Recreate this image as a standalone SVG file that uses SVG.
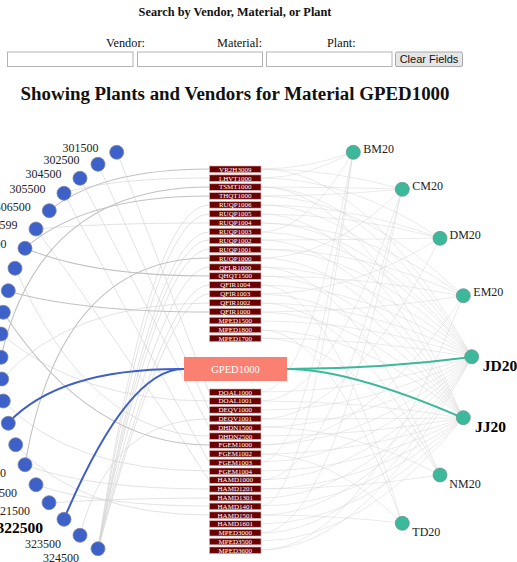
<svg xmlns="http://www.w3.org/2000/svg" width="517" height="562" viewBox="0 0 517 562">
<style>
.fl{fill:none;stroke:#d2d2d2;stroke-width:1;stroke-opacity:.45}
.vf{fill:none;stroke:#d4d4d4;stroke-width:1;stroke-opacity:.65}
.vl{fill:none;stroke:#c2c2c2;stroke-width:1.1}
.hv{fill:none;stroke:#3e5fc7;stroke-width:2}
.hp{fill:none;stroke:#3cb89b;stroke-width:2}
.vn circle{fill:#3d60c9;stroke:#7d88a6;stroke-width:.8}
.pn circle{fill:#3cb89b;stroke:#6b9a8e;stroke-width:.8}
.lbl{font-family:"Liberation Serif",serif;font-size:12px;fill:#222}
.vn .lbl{text-anchor:end}
.big{font-size:15.5px;font-weight:bold;fill:#000}
.mat rect{fill:#6b0202;stroke:#e2b0b0;stroke-width:.6}
.mat text{font-family:"Liberation Serif",serif;font-size:7px;fill:#fff;text-anchor:middle}
.hdr{font-family:"Liberation Serif",serif;fill:#111}
.inp{fill:#fff;stroke:#b4b4b4;stroke-width:1}
</style>

<g id="header">
<text class="hdr" x="235" y="16" font-size="12.3" font-weight="bold" text-anchor="middle">Search by Vendor, Material, or Plant</text>
<text class="hdr" x="106" y="47" font-size="12.3">Vendor:</text>
<text class="hdr" x="217" y="47" font-size="12.3">Material:</text>
<text class="hdr" x="327" y="47" font-size="12.3">Plant:</text>
<rect class="inp" x="7.5" y="52" width="125.5" height="14.5"/>
<rect class="inp" x="137.5" y="52" width="125" height="14.5"/>
<rect class="inp" x="266.5" y="52" width="125.5" height="14.5"/>
<rect x="395.5" y="52" width="67" height="14.5" rx="1.5" fill="#e6e6e6" stroke="#aaaaaa"/>
<text x="429" y="63" font-family="'Liberation Sans',sans-serif" font-size="11" text-anchor="middle" fill="#111">Clear Fields</text>
<text class="hdr" x="235" y="100" font-size="18.9" font-weight="bold" text-anchor="middle" fill="#000">Showing Plants and Vendors for Material GPED1000</text>
</g>

<g id="connectors">
<g id="material-plant-links">
<path class="fl" d="M261 169Q307 169 353 152"/><path class="fl" d="M261 169Q332 169 402 189"/><path class="fl" d="M261 169Q366 169 472 357"/>
<path class="fl" d="M261 178Q307 178 353 152"/><path class="fl" d="M261 178Q350 178 440 238"/>
<path class="fl" d="M261 187Q332 187 402 189"/><path class="fl" d="M261 187Q366 187 472 357"/><path class="fl" d="M261 187Q362 187 463 418"/>
<path class="fl" d="M261 196Q332 196 402 189"/><path class="fl" d="M261 196Q362 196 463 296"/>
<path class="fl" d="M261 205Q350 205 440 238"/><path class="fl" d="M261 205Q366 205 472 357"/>
<path class="fl" d="M261 214Q350 214 440 238"/><path class="fl" d="M261 214Q362 214 463 418"/>
<path class="fl" d="M261 223Q362 223 463 296"/><path class="fl" d="M261 223Q366 223 472 357"/>
<path class="fl" d="M261 232Q307 232 353 152"/><path class="fl" d="M261 232Q366 232 472 357"/>
<path class="fl" d="M261 240Q350 240 440 238"/><path class="fl" d="M261 240Q362 240 463 418"/>
<path class="fl" d="M261 249Q362 249 463 296"/><path class="fl" d="M261 249Q366 249 472 357"/>
<path class="fl" d="M261 258Q332 258 402 189"/><path class="fl" d="M261 258Q362 258 463 418"/>
<path class="fl" d="M261 267Q366 267 472 357"/><path class="fl" d="M261 267Q350 267 440 475"/>
<path class="fl" d="M261 276Q362 276 463 296"/><path class="fl" d="M261 276Q362 276 463 418"/>
<path class="fl" d="M261 285Q366 285 472 357"/><path class="fl" d="M261 285Q332 285 402 523"/>
<path class="fl" d="M261 294Q350 294 440 238"/><path class="fl" d="M261 294Q362 294 463 418"/>
<path class="fl" d="M261 303Q366 303 472 357"/><path class="fl" d="M261 303Q350 303 440 475"/>
<path class="fl" d="M261 312Q362 312 463 296"/><path class="fl" d="M261 312Q362 312 463 418"/>
<path class="fl" d="M261 321Q366 321 472 357"/>
<path class="fl" d="M261 330Q362 330 463 418"/><path class="fl" d="M261 330Q332 330 402 523"/>
<path class="fl" d="M261 338Q366 338 472 357"/><path class="fl" d="M261 338Q350 338 440 475"/>
<path class="fl" d="M261 392Q366 392 472 357"/><path class="fl" d="M261 392Q307 392 353 152"/>
<path class="fl" d="M261 401Q362 401 463 418"/><path class="fl" d="M261 401Q332 401 402 189"/>
<path class="fl" d="M261 410Q366 410 472 357"/>
<path class="fl" d="M261 419Q362 419 463 418"/><path class="fl" d="M261 419Q350 419 440 238"/>
<path class="fl" d="M261 427Q366 427 472 357"/><path class="fl" d="M261 427Q350 427 440 475"/>
<path class="fl" d="M261 436Q362 436 463 418"/>
<path class="fl" d="M261 445Q366 445 472 357"/><path class="fl" d="M261 445Q362 445 463 296"/>
<path class="fl" d="M261 454Q362 454 463 418"/><path class="fl" d="M261 454Q332 454 402 523"/>
<path class="fl" d="M261 462Q366 462 472 357"/><path class="fl" d="M261 462Q307 462 353 152"/>
<path class="fl" d="M261 471Q362 471 463 418"/>
<path class="fl" d="M261 480Q366 480 472 357"/><path class="fl" d="M261 480Q332 480 402 189"/>
<path class="fl" d="M261 489Q362 489 463 418"/><path class="fl" d="M261 489Q350 489 440 475"/>
<path class="fl" d="M261 498Q366 498 472 357"/>
<path class="fl" d="M261 506Q362 506 463 418"/><path class="fl" d="M261 506Q307 506 353 152"/>
<path class="fl" d="M261 515Q366 515 472 357"/><path class="fl" d="M261 515Q332 515 402 523"/>
<path class="fl" d="M261 524Q362 524 463 418"/>
<path class="fl" d="M261 533Q366 533 472 357"/><path class="fl" d="M261 533Q332 533 402 189"/>
<path class="fl" d="M261 541Q362 541 463 418"/>
<path class="fl" d="M261 550Q366 550 472 357"/><path class="fl" d="M261 550Q362 550 463 296"/>
</g>
<g id="vendor-material-links">
<path class="vf" d="M117 152L209 392"/>
<path class="vf" d="M98 164L209 410"/>
<path class="vf" d="M80 178L209 427"/>
<path class="vf" d="M64 193Q120 300 209 462"/>
<path class="vf" d="M36 229Q110 330 209 480"/>
<path class="vf" d="M64 193Q110 178 209 178"/>
<path class="vf" d="M36 229Q100 223 209 223"/>
<path class="vf" d="M98 549Q150 205 209 205"/>
<path class="vf" d="M98 549Q153 214 209 214"/>
<path class="vf" d="M98 549Q156 232 209 232"/>
<path class="vf" d="M98 549Q158 240 209 240"/>
<path class="vf" d="M98 549Q160 249 209 249"/>
<path class="vf" d="M98 549Q163 267 209 267"/>
<path class="vf" d="M98 549Q166 285 209 285"/>
<path class="vf" d="M98 549Q168 294 209 294"/>
<path class="vf" d="M80 535Q110 419 209 419"/>
<path class="vf" d="M49 503Q120 498 209 498"/>
<path class="vf" d="M36 485Q100 506 209 506"/>
<path class="vf" d="M25 465Q90 489 209 489"/>
<path class="vf" d="M16 445Q80 515 209 515"/>
<path class="vf" d="M3 401Q70 471 209 471"/>
<path class="vf" d="M2 379Q70 303 209 303"/>
<path class="vf" d="M1 334Q80 401 209 401"/>
<path class="vf" d="M15 268Q90 436 209 436"/>
<path class="vl" d="M49 211Q100 169 209 169"/>
<path class="vl" d="M1 357Q40 187 209 187"/>
<path class="vl" d="M25 248Q85 196 209 196"/>
<path class="vl" d="M25 248Q90 276 209 276"/>
<path class="vl" d="M8 291Q80 312 209 312"/>
<path class="vl" d="M3 312Q90 445 209 445"/>
<path class="vl" d="M25 465Q60 258 209 258"/>
</g>
<g id="highlighted-links">
<path class="hv" d="M8 423Q60 368 184 369"/>
<path class="hv" d="M64 519Q128 368 184 369"/>
<path class="hp" d="M287 369Q380 369 472 357"/>
<path class="hp" d="M287 369Q350 369 463 418"/>
</g>
</g>

<g id="materials" class="mat">
<g id="m-VR2H3009" transform="translate(209.5,166)"><rect width="51.5" height="6.5"/><text x="25.75" y="5.6">VR2H3009</text></g>
<g id="m-LHVT1000" transform="translate(209.5,174.9)"><rect width="51.5" height="6.5"/><text x="25.75" y="5.6">LHVT1000</text></g>
<g id="m-TSMT1000" transform="translate(209.5,183.8)"><rect width="51.5" height="6.5"/><text x="25.75" y="5.6">TSMT1000</text></g>
<g id="m-THQT1000" transform="translate(209.5,192.7)"><rect width="51.5" height="6.5"/><text x="25.75" y="5.6">THQT1000</text></g>
<g id="m-RUQP1006" transform="translate(209.5,201.6)"><rect width="51.5" height="6.5"/><text x="25.75" y="5.6">RUQP1006</text></g>
<g id="m-RUQP1005" transform="translate(209.5,210.5)"><rect width="51.5" height="6.5"/><text x="25.75" y="5.6">RUQP1005</text></g>
<g id="m-RUQP1004" transform="translate(209.5,219.4)"><rect width="51.5" height="6.5"/><text x="25.75" y="5.6">RUQP1004</text></g>
<g id="m-RUQP1003" transform="translate(209.5,228.3)"><rect width="51.5" height="6.5"/><text x="25.75" y="5.6">RUQP1003</text></g>
<g id="m-RUQP1002" transform="translate(209.5,237.2)"><rect width="51.5" height="6.5"/><text x="25.75" y="5.6">RUQP1002</text></g>
<g id="m-RUQP1001" transform="translate(209.5,246.1)"><rect width="51.5" height="6.5"/><text x="25.75" y="5.6">RUQP1001</text></g>
<g id="m-RUQP1000" transform="translate(209.5,255)"><rect width="51.5" height="6.5"/><text x="25.75" y="5.6">RUQP1000</text></g>
<g id="m-QFLR1000" transform="translate(209.5,263.9)"><rect width="51.5" height="6.5"/><text x="25.75" y="5.6">QFLR1000</text></g>
<g id="m-QHQT1500" transform="translate(209.5,272.8)"><rect width="51.5" height="6.5"/><text x="25.75" y="5.6">QHQT1500</text></g>
<g id="m-QFIR1004" transform="translate(209.5,281.7)"><rect width="51.5" height="6.5"/><text x="25.75" y="5.6">QFIR1004</text></g>
<g id="m-QFIR1003" transform="translate(209.5,290.6)"><rect width="51.5" height="6.5"/><text x="25.75" y="5.6">QFIR1003</text></g>
<g id="m-QFIR1002" transform="translate(209.5,299.5)"><rect width="51.5" height="6.5"/><text x="25.75" y="5.6">QFIR1002</text></g>
<g id="m-QFIR1000" transform="translate(209.5,308.4)"><rect width="51.5" height="6.5"/><text x="25.75" y="5.6">QFIR1000</text></g>
<g id="m-MPED1500" transform="translate(209.5,317.3)"><rect width="51.5" height="6.5"/><text x="25.75" y="5.6">MPED1500</text></g>
<g id="m-MPED1800" transform="translate(209.5,326.2)"><rect width="51.5" height="6.5"/><text x="25.75" y="5.6">MPED1800</text></g>
<g id="m-MPED1700" transform="translate(209.5,335.1)"><rect width="51.5" height="6.5"/><text x="25.75" y="5.6">MPED1700</text></g>
<g id="m-DOAL1000" transform="translate(209.5,389)"><rect width="51.5" height="6.5"/><text x="25.75" y="5.6">DOAL1000</text></g>
<g id="m-DOAL1001" transform="translate(209.5,397.8)"><rect width="51.5" height="6.5"/><text x="25.75" y="5.6">DOAL1001</text></g>
<g id="m-DEQV1000" transform="translate(209.5,406.6)"><rect width="51.5" height="6.5"/><text x="25.75" y="5.6">DEQV1000</text></g>
<g id="m-DEQV1001" transform="translate(209.5,415.3)"><rect width="51.5" height="6.5"/><text x="25.75" y="5.6">DEQV1001</text></g>
<g id="m-DHDN1500" transform="translate(209.5,424.1)"><rect width="51.5" height="6.5"/><text x="25.75" y="5.6">DHDN1500</text></g>
<g id="m-DHDN2500" transform="translate(209.5,432.9)"><rect width="51.5" height="6.5"/><text x="25.75" y="5.6">DHDN2500</text></g>
<g id="m-FGEM1000" transform="translate(209.5,441.7)"><rect width="51.5" height="6.5"/><text x="25.75" y="5.6">FGEM1000</text></g>
<g id="m-FGEM1002" transform="translate(209.5,450.5)"><rect width="51.5" height="6.5"/><text x="25.75" y="5.6">FGEM1002</text></g>
<g id="m-FGEM1003" transform="translate(209.5,459.2)"><rect width="51.5" height="6.5"/><text x="25.75" y="5.6">FGEM1003</text></g>
<g id="m-FGEM1004" transform="translate(209.5,468)"><rect width="51.5" height="6.5"/><text x="25.75" y="5.6">FGEM1004</text></g>
<g id="m-HAMD1000" transform="translate(209.5,476.8)"><rect width="51.5" height="6.5"/><text x="25.75" y="5.6">HAMD1000</text></g>
<g id="m-HAMD1201" transform="translate(209.5,485.6)"><rect width="51.5" height="6.5"/><text x="25.75" y="5.6">HAMD1201</text></g>
<g id="m-HAMD1301" transform="translate(209.5,494.4)"><rect width="51.5" height="6.5"/><text x="25.75" y="5.6">HAMD1301</text></g>
<g id="m-HAMD1401" transform="translate(209.5,503.1)"><rect width="51.5" height="6.5"/><text x="25.75" y="5.6">HAMD1401</text></g>
<g id="m-HAMD1501" transform="translate(209.5,511.9)"><rect width="51.5" height="6.5"/><text x="25.75" y="5.6">HAMD1501</text></g>
<g id="m-HAMD1601" transform="translate(209.5,520.7)"><rect width="51.5" height="6.5"/><text x="25.75" y="5.6">HAMD1601</text></g>
<g id="m-MPED3000" transform="translate(209.5,529.5)"><rect width="51.5" height="6.5"/><text x="25.75" y="5.6">MPED3000</text></g>
<g id="m-MPED3500" transform="translate(209.5,538.3)"><rect width="51.5" height="6.5"/><text x="25.75" y="5.6">MPED3500</text></g>
<g id="m-MPED3600" transform="translate(209.5,547)"><rect width="51.5" height="6.5"/><text x="25.75" y="5.6">MPED3600</text></g>
</g>

<g id="m-GPED1000">
<rect x="184" y="357" width="103" height="24" fill="#fa8072"/>
<text x="235.5" y="373" font-family="'Liberation Serif',serif" font-size="10.5" fill="#fff" text-anchor="middle">GPED1000</text>
</g>

<g id="vendors" class="vn">
<g id="v-301500"><circle cx="116.7" cy="152.3" r="7"/><text class="lbl" x="98.5" y="152">301500</text></g>
<g id="v-302500"><circle cx="98" cy="164.3" r="7"/><text class="lbl" x="79.5" y="164">302500</text></g>
<g id="v-304500"><circle cx="80" cy="178.3" r="7"/><text class="lbl" x="61.5" y="178">304500</text></g>
<g id="v-305500"><circle cx="64" cy="193.3" r="7"/><text class="lbl" x="45.5" y="193">305500</text></g>
<g id="v-306500"><circle cx="49.3" cy="210.7" r="7"/><text class="lbl" x="30.8" y="210.5">306500</text></g>
<g id="v-307599"><circle cx="36" cy="229" r="7"/><text class="lbl" x="17.5" y="229">307599</text></g>
<g id="v-308500"><circle cx="25" cy="248.3" r="7"/><text class="lbl" x="6.5" y="248">308500</text></g>
<g id="v-09"><circle cx="15" cy="268.3" r="7"/></g>
<g id="v-10"><circle cx="8.3" cy="290.7" r="7"/></g>
<g id="v-11"><circle cx="3.3" cy="312.3" r="7"/></g>
<g id="v-12"><circle cx="1" cy="334" r="7"/></g>
<g id="v-13"><circle cx="1" cy="357.3" r="7"/></g>
<g id="v-14"><circle cx="1.7" cy="379" r="7"/></g>
<g id="v-15"><circle cx="3.3" cy="401" r="7"/></g>
<g id="v-16"><circle cx="8.3" cy="423.3" r="7"/></g>
<g id="v-17"><circle cx="15.7" cy="444.7" r="7"/></g>
<g id="v-318500"><circle cx="25" cy="464.7" r="7"/><text class="lbl" x="6" y="477">318500</text></g>
<g id="v-320500"><circle cx="36" cy="484.7" r="7"/><text class="lbl" x="17" y="497">320500</text></g>
<g id="v-321500"><circle cx="49" cy="502.7" r="7"/><text class="lbl" x="30" y="515">321500</text></g>
<g id="v-322500"><circle cx="64" cy="519.3" r="7"/><text class="lbl big" x="43" y="533">322500</text></g>
<g id="v-323500"><circle cx="80" cy="535.3" r="7"/><text class="lbl" x="61" y="548">323500</text></g>
<g id="v-324500"><circle cx="98" cy="548.7" r="7"/><text class="lbl" x="79" y="561.5">324500</text></g>
</g>

<g id="plants" class="pn">
<g id="p-BM20"><circle cx="353.3" cy="152.3" r="7"/><text class="lbl" x="363.3" y="153">BM20</text></g>
<g id="p-CM20"><circle cx="402.3" cy="189.3" r="7"/><text class="lbl" x="412.3" y="190">CM20</text></g>
<g id="p-DM20"><circle cx="440" cy="238.3" r="7"/><text class="lbl" x="449.5" y="239">DM20</text></g>
<g id="p-EM20"><circle cx="463.3" cy="295.7" r="7"/><text class="lbl" x="473.3" y="296">EM20</text></g>
<g id="p-JD20"><circle cx="471.7" cy="356.7" r="7"/><text class="lbl big" x="482.7" y="370.5">JD20</text></g>
<g id="p-JJ20"><circle cx="463.3" cy="417.7" r="7"/><text class="lbl big" x="475" y="431.5">JJ20</text></g>
<g id="p-NM20"><circle cx="440" cy="475" r="7"/><text class="lbl" x="449.3" y="488">NM20</text></g>
<g id="p-TD20"><circle cx="402.3" cy="523.3" r="7"/><text class="lbl" x="412.3" y="536">TD20</text></g>
</g>
</svg>
